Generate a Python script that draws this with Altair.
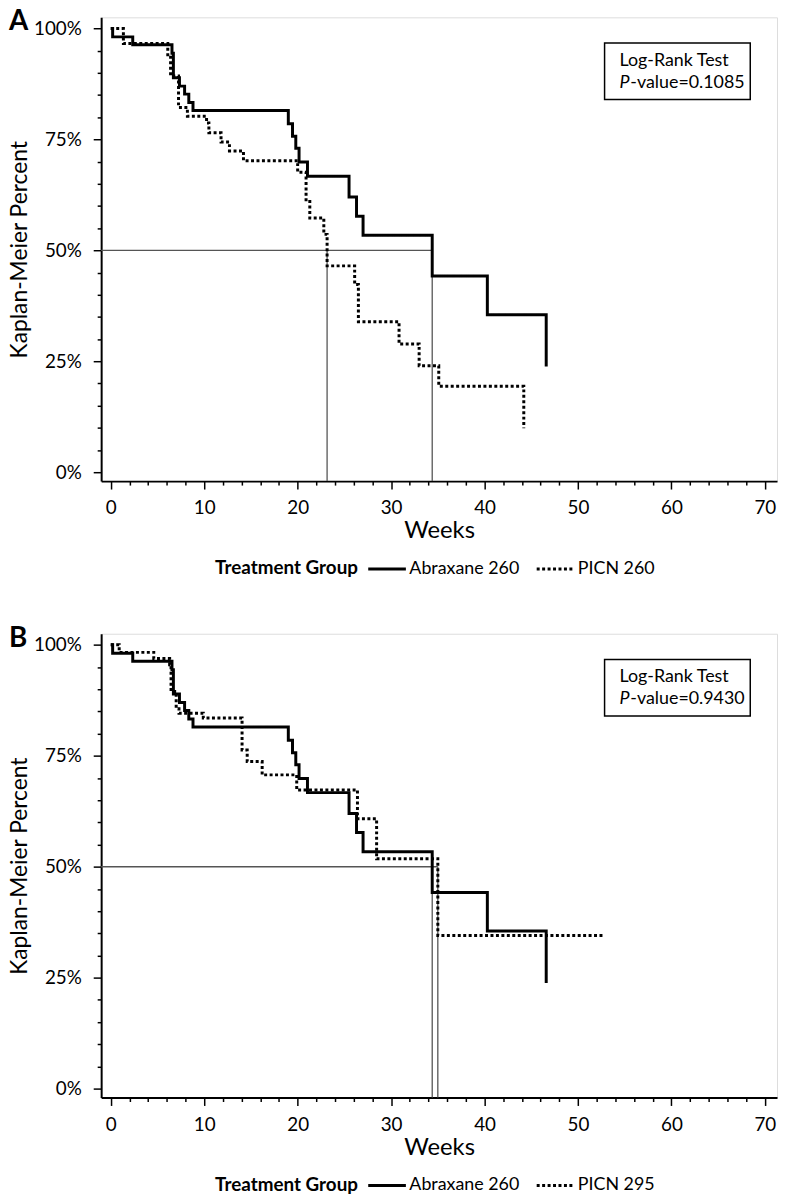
import altair as alt
import pandas as pd

# ---- data (weeks, Kaplan-Meier percent) ----
abrax_w = [0, 0.2, 2.35, 6.55, 6.7, 7.35, 7.9, 8.35, 8.8, 19.0, 19.45, 19.8, 20.15, 21.05, 25.5, 26.3, 27.0, 34.4, 40.3, 46.6]
abrax_p = [100, 98.1, 96.3, 94.4, 88.9, 87.0, 85.2, 83.3, 81.5, 78.5, 75.7, 73.0, 69.9, 66.7, 62.0, 57.7, 53.4, 44.2, 35.5, 23.8]

picn260_w = [0, 1.35, 6.1, 6.4, 7.25, 8.2, 10.25, 10.5, 11.8, 12.7, 14.2, 20.0, 20.9, 21.3, 22.8, 23.15, 26.1, 26.5, 30.85, 33.0, 35.1, 44.2]
picn260_p = [100, 96.6, 93.5, 89.3, 82.2, 80.2, 78.7, 76.5, 74.4, 72.4, 70.2, 67.6, 61.0, 57.3, 53.6, 46.5, 42.3, 33.9, 28.9, 24.0, 19.4, 9.9]

picn295_w = [0, 0.9, 4.6, 6.3, 6.45, 7.0, 7.3, 9.9, 14.05, 14.6, 16.2, 19.9, 26.4, 28.45, 35.0, 52.8]
picn295_p = [100, 98.3, 96.9, 95.5, 89.5, 85.6, 84.6, 83.5, 76.3, 73.7, 70.7, 67.3, 60.8, 51.8, 34.5, 34.5]

medians_a = [23.15, 34.4]
medians_b = [34.4, 35.0]

panel_letters = ["A", "B"]
pvalues = ["0.1085", "0.9430"]
group_names_a = ["Abraxane 260", "PICN 260"]
group_names_b = ["Abraxane 260", "PICN 295"]

x_ticks = list(range(0, 71, 2))
y_ticks = list(range(0, 101, 5))

FONT = "Lato"
W, H = 682, 468


def panel(letter, names, series, medians, pval):
    frames = []
    for name, (ws, ps) in zip(names, series):
        frames.append(pd.DataFrame({"w": ws, "p": ps, "group": name}))
    df = pd.concat(frames, ignore_index=True)

    xs = alt.Scale(domain=[-1.03, 71.3], nice=False, zero=False)
    ys = alt.Scale(domain=[-2, 102.5], nice=False, zero=False)

    xaxis = alt.Axis(
        values=x_ticks,
        labelExpr="datum.value % 10 === 0 ? datum.label : ''",
        tickSize={"condition": {"test": "datum.value % 10 === 0", "value": 8}, "value": 4},
        tickColor="black", tickWidth=1.5, domainColor="black", domainWidth=2,
        labelFontSize=19, labelColor="black", labelPadding=10, labelFont=FONT,
        title="Weeks", titleFontSize=24, titleFontWeight="normal", titleColor="black",
        titlePadding=1, titleFont=FONT, grid=False,
    )
    yaxis = alt.Axis(
        values=y_ticks,
        labelExpr="datum.value % 25 === 0 ? datum.value + '%' : ''",
        tickSize={"condition": {"test": "datum.value % 25 === 0", "value": 8}, "value": 4},
        tickColor="black", tickWidth=1.5, domainColor="black", domainWidth=2,
        labelFontSize=19, labelColor="black", labelPadding=12, labelFont=FONT,
        title="Kaplan-Meier Percent", titleFontSize=23, titleFontWeight="normal",
        titleColor="black", titlePadding=2, titleFont=FONT, grid=False,
    )

    med = pd.DataFrame({"m": medians, "lvl": [50] * len(medians)})
    med_max = pd.DataFrame({"m": [max(medians)], "lvl": [50]})

    hline = alt.Chart(med_max).mark_rule(color="#555555", strokeWidth=1.3).encode(
        x=alt.X("m:Q", scale=xs, axis=xaxis), x2=alt.value(0),
        y=alt.Y("lvl:Q", scale=ys, axis=yaxis),
    )
    vlines = alt.Chart(med).mark_rule(color="#555555", strokeWidth=1.3).encode(
        x=alt.X("m:Q", scale=xs, axis=xaxis),
        y=alt.Y("lvl:Q", scale=ys, axis=yaxis), y2=alt.value(H),
    )

    lines = alt.Chart(df).mark_line(interpolate="step-after", color="black", strokeWidth=3).encode(
        x=alt.X("w:Q", scale=xs, axis=xaxis),
        y=alt.Y("p:Q", scale=ys, axis=yaxis),
        strokeDash=alt.StrokeDash(
            "group:N",
            scale=alt.Scale(domain=names, range=[[1, 0], [3, 2.5]]),
            legend=alt.Legend(
                orient="none", legendX=115, legendY=536, direction="horizontal",
                titleOrient="left", title="Treatment Group", titleFontWeight="bold",
                titleFontSize=19, titleFont=FONT, titleColor="black", titlePadding=8,
                labelFontSize=18, labelFont=FONT, labelColor="black", labelOffset=2,
                columnPadding=11, symbolType="stroke", symbolSize=1444,
                symbolStrokeWidth=3, symbolStrokeColor="black", padding=0,
                titleBaseline="line-top", titleLineHeight=10, titleAnchor="middle",
            ),
        ),
    )

    one = pd.DataFrame({"k": [0]})
    box = alt.Chart(one).mark_rect(fill="white", stroke="black", strokeWidth=1.5).encode(
        x=alt.value(508), x2=alt.value(655), y=alt.value(26), y2=alt.value(83)
    )
    t1 = alt.Chart(one).mark_text(
        text="Log-Rank Test", fontSize=18, font=FONT, align="left", baseline="middle", color="black"
    ).encode(x=alt.value(523), y=alt.value(44))
    t2 = alt.Chart(one).mark_text(
        text="P", fontSize=18, font=FONT, fontStyle="italic", align="left", baseline="middle", color="black"
    ).encode(x=alt.value(523), y=alt.value(66))
    t3 = alt.Chart(one).mark_text(
        text="-value=" + pval, fontSize=18, font=FONT, align="left", baseline="middle", color="black"
    ).encode(x=alt.value(534), y=alt.value(66))
    lt = alt.Chart(one).mark_text(
        text=letter, fontSize=28, font=FONT, fontWeight="bold", align="left", baseline="middle", color="black"
    ).encode(x=alt.value(-93), y=alt.value(5))

    return alt.layer(hline, vlines, lines, box, t1, t2, t3, lt).properties(width=W, height=H)


pa = panel(panel_letters[0], group_names_a, [(abrax_w, abrax_p), (picn260_w, picn260_p)], medians_a, pvalues[0])
pb = panel(panel_letters[1], group_names_b, [(abrax_w, abrax_p), (picn295_w, picn295_p)], medians_b, pvalues[1])

chart = (
    alt.vconcat(pa, pb, spacing=45)
    .resolve_scale(strokeDash="independent")
    .properties(padding={"left": 0, "top": -6, "right": 0, "bottom": 0})
    .configure_view(stroke="black", strokeWidth=2)
    .configure(font=FONT)
)

chart.save("out.html", embed_options={"renderer": "svg", "actions": False})
